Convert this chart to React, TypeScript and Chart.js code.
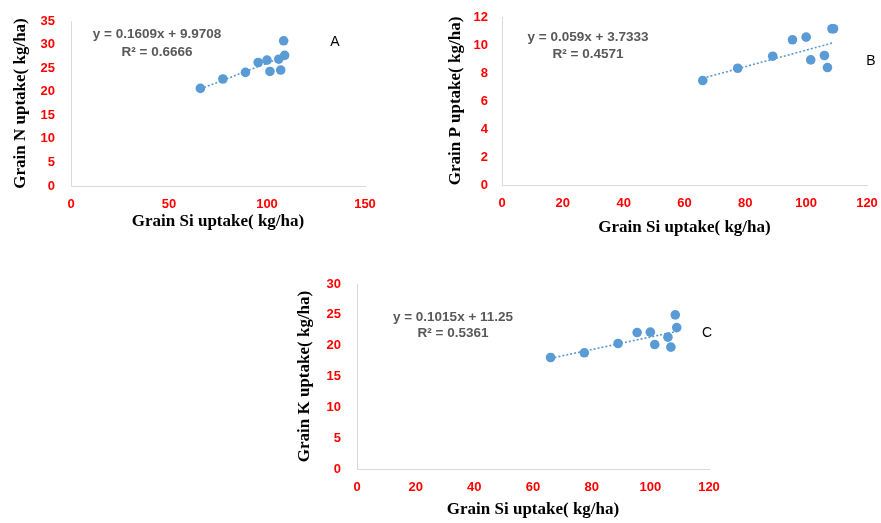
import React, { useEffect, useRef } from 'react';
import { Chart, registerables } from 'chart.js';

Chart.register(...registerables);

// ---- Data ----
const siUptake = [66, 77.5, 89, 95.5, 100, 101.5, 106, 107, 108.5, 109];
const grainN = [20.7, 22.7, 24.1, 26.2, 26.7, 24.3, 26.9, 24.6, 30.8, 27.7];
const grainP = [7.46, 8.34, 9.2, 10.37, 10.56, 8.94, 9.25, 8.39, 11.16, 11.16];
const grainK = [18.08, 18.84, 20.35, 22.13, 22.19, 20.18, 21.38, 19.76, 24.99, 22.93];

const trendN = { slope: 0.1609, intercept: 9.9708, eq: 'y = 0.1609x + 9.9708', r2: 'R² = 0.6666' };
const trendP = { slope: 0.059, intercept: 3.7333, eq: 'y = 0.059x + 3.7333', r2: 'R² = 0.4571' };
const trendK = { slope: 0.1015, intercept: 11.25, eq: 'y = 0.1015x + 11.25', r2: 'R² = 0.5361' };

const xTitle = 'Grain Si uptake( kg/ha)';
const yTitleN = 'Grain N uptake( kg/ha)';
const yTitleP = 'Grain P uptake( kg/ha)';
const yTitleK = 'Grain K uptake( kg/ha)';

const POINT_COLOR = '#5B9BD5';
const TICK_FONT = { family: 'Liberation Sans', size: 13, weight: 'bold' as const };
const TITLE_FONT = { family: 'Liberation Serif', size: 17, weight: 'bold' as const };
const EQ_FONT = 'bold 13.5px "Liberation Sans"';
const LETTER_FONT = '14px "Liberation Sans"';

type PanelText = { text: string; x: number; y: number; font: string; color: string };

type PanelProps = {
  left: number; top: number; width: number; height: number;
  xs: number[]; ys: number[];
  trend: { slope: number; intercept: number; eq: string; r2: string };
  xMax: number; xStep: number; yMax: number; yStep: number;
  yTitle: string;
  yAxisWidth: number; xAxisHeight: number; padTop: number; padRight: number;
  yTickPad: number; xTickPad: number; yTitlePad: number; xTitlePad: number;
  eqPos: [number, number]; r2Pos: [number, number];
  letter: string; letterPos: [number, number];
};

function ScatterPanel(p: PanelProps) {
  const ref = useRef<HTMLCanvasElement | null>(null);
  useEffect(() => {
    if (!ref.current) return;
    const points = p.xs.map((x, i) => ({ x, y: p.ys[i] }));
    const xMin = Math.min(...p.xs);
    const xMaxData = Math.max(...p.xs);
    const trendPts = [xMin, xMaxData].map((x) => ({ x, y: p.trend.slope * x + p.trend.intercept }));
    const texts: PanelText[] = [
      { text: p.trend.eq, x: p.eqPos[0], y: p.eqPos[1], font: EQ_FONT, color: '#595959' },
      { text: p.trend.r2, x: p.r2Pos[0], y: p.r2Pos[1], font: EQ_FONT, color: '#595959' },
      { text: p.letter, x: p.letterPos[0], y: p.letterPos[1], font: LETTER_FONT, color: '#000000' },
    ];
    const textPlugin = {
      id: 'panelTexts',
      afterDraw(chart: any) {
        const ctx = chart.ctx;
        ctx.save();
        ctx.textAlign = 'center';
        ctx.textBaseline = 'middle';
        for (const t of texts) {
          ctx.font = t.font;
          ctx.fillStyle = t.color;
          ctx.fillText(t.text, t.x, t.y);
        }
        ctx.restore();
      },
    };
    const chart = new Chart(ref.current, {
      type: 'scatter',
      data: {
        datasets: [
          {
            type: 'scatter',
            data: points,
            backgroundColor: POINT_COLOR,
            borderColor: POINT_COLOR,
            pointRadius: 4.8,
            pointBorderWidth: 0,
            order: 2,
          } as any,
          {
            type: 'line',
            data: trendPts,
            borderColor: POINT_COLOR,
            borderWidth: 1.6,
            borderDash: [2, 2],
            pointRadius: 0,
            fill: false,
            order: 1,
          } as any,
        ],
      },
      options: {
        animation: false,
        responsive: false,
        maintainAspectRatio: false,
        devicePixelRatio: 1,
        layout: { padding: { top: p.padTop, right: p.padRight, left: 0, bottom: 0 } },
        plugins: { legend: { display: false }, tooltip: { enabled: false } },
        scales: {
          x: {
            type: 'linear',
            min: 0,
            max: p.xMax,
            ticks: { stepSize: p.xStep, color: '#FF0000', font: TICK_FONT, padding: p.xTickPad, maxRotation: 0, autoSkip: false },
            grid: { display: false, drawTicks: false },
            border: { display: true, color: '#D9D9D9', width: 1 },
            title: { display: true, text: xTitle, color: '#000000', font: TITLE_FONT, padding: { top: 0, bottom: p.xTitlePad } },
            afterFit: (s: any) => { s.height = p.xAxisHeight; s.paddingLeft = 0; s.paddingRight = 0; },
          },
          y: {
            type: 'linear',
            min: 0,
            max: p.yMax,
            ticks: { stepSize: p.yStep, color: '#FF0000', font: TICK_FONT, padding: p.yTickPad, autoSkip: false },
            grid: { display: false, drawTicks: false },
            border: { display: true, color: '#D9D9D9', width: 1 },
            title: { display: true, text: p.yTitle, color: '#000000', font: TITLE_FONT, padding: { top: p.yTitlePad, bottom: 0 } },
            afterFit: (s: any) => { s.width = p.yAxisWidth; s.paddingTop = 0; s.paddingBottom = 0; },
          },
        },
      } as any,
      plugins: [textPlugin],
    });
    return () => chart.destroy();
  }, []);
  return (
    <canvas
      ref={ref}
      width={p.width}
      height={p.height}
      style={{ position: 'absolute', left: p.left, top: p.top, width: p.width, height: p.height, display: 'block' }}
    />
  );
}

export default function App() {
  return (
    <div style={{ position: 'absolute', left: 0, top: 0, width: 881, height: 523, background: '#ffffff', overflow: 'hidden' }}>
      <ScatterPanel
        left={0} top={0} width={380} height={240}
        xs={siUptake} ys={grainN} trend={trendN}
        xMax={150} xStep={50} yMax={35} yStep={5}
        yTitle={yTitleN}
        yAxisWidth={71} xAxisHeight={54} padTop={21} padRight={15}
        yTickPad={16} xTickPad={11} yTitlePad={10} xTitlePad={8}
        eqPos={[157, 34]} r2Pos={[157, 52]}
        letter="A" letterPos={[335, 42]}
      />
      <ScatterPanel
        left={430} top={0} width={451} height={240}
        xs={siUptake} ys={grainP} trend={trendP}
        xMax={120} xStep={20} yMax={12} yStep={2}
        yTitle={yTitleP}
        yAxisWidth={72} xAxisHeight={55} padTop={17} padRight={14}
        yTickPad={14} xTickPad={11} yTitlePad={15} xTitlePad={2}
        eqPos={[158, 37]} r2Pos={[158, 54]}
        letter="B" letterPos={[441, 61]}
      />
      <ScatterPanel
        left={290} top={270} width={440} height={253}
        xs={siUptake} ys={grainK} trend={trendK}
        xMax={120} xStep={20} yMax={30} yStep={5}
        yTitle={yTitleK}
        yAxisWidth={67} xAxisHeight={54} padTop={14} padRight={21}
        yTickPad={16} xTickPad={11} yTitlePad={4} xTitlePad={3}
        eqPos={[163, 47]} r2Pos={[163, 63]}
        letter="C" letterPos={[417, 63]}
      />
    </div>
  );
}
